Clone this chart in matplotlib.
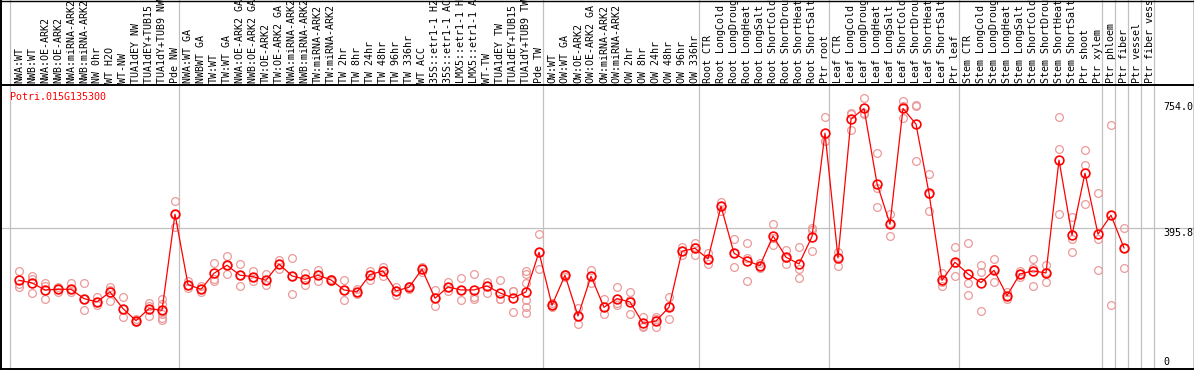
import matplotlib
matplotlib.use("Agg")
import matplotlib.pyplot as plt
from matplotlib.lines import Line2D

# ---------------- data ----------------
gene_id = "Potri.015G135300"

samples = [
    # group 1
    "NWA:WT", "NWB:WT", "NWA:OE-ARK2", "NWB:OE-ARK2", "NWA:miRNA-ARK2", "NWB:miRNA-ARK2",
    "NW 0hr", "WT H2O", "WT-NW", "TUA1dEY NW", "TUA1dEY+TUB15 NW", "TUA1dY+TUB9 NW", "Pde NW",
    # group 2
    "NWA:WT GA", "NWBWT GA", "TW:WT", "TW:WT GA", "NWA:OE-ARK2 GA", "NWB:OE-ARK2 GA",
    "TW:OE-ARK2", "TW:OE-ARK2 GA", "NWA:miRNA-ARK2 GA", "NWB:miRNA-ARK2 GA", "TW:miRNA-ARK2",
    "TW:miRNA-ARK2 GA", "TW 2hr", "TW 8hr", "TW 24hr", "TW 48hr", "TW 96hr", "TW 336hr",
    "WT ACC", "35S::etr1-1 H2O", "35S::etr1-1 ACC", "LMX5::etr1-1 H2O", "LMX5::etr1-1 ACC",
    "WT-TW", "TUA1dEY TW", "TUA1dEY+TUB15 TW", "TUA1dY+TUB9 TW", "Pde TW",
    # group 3
    "OW:WT", "OW:WT GA", "OW:OE-ARK2", "OW:OE-ARK2 GA", "OW:miRNA-ARK2", "OW:miRNA-ARK2 GA",
    "OW 2hr", "OW 8hr", "OW 24hr", "OW 48hr", "OW 96hr", "OW 336hr",
    # group 4
    "Root CTR", "Root LongCold", "Root LongDrought", "Root LongHeat", "Root LongSalt",
    "Root ShortCold", "Root ShortDrought", "Root ShortHeat", "Root ShortSalt", "Ptr root",
    # group 5
    "Leaf CTR", "Leaf LongCold", "Leaf LongDrought", "Leaf LongHeat", "Leaf LongSalt",
    "Leaf ShortCold", "Leaf ShortDrought", "Leaf ShortHeat", "Leaf ShortSalt", "Ptr leaf",
    # group 6
    "Stem CTR", "Stem LongCold", "Stem LongDrought", "Stem LongHeat", "Stem LongSalt",
    "Stem ShortCold", "Stem ShortDrought", "Stem ShortHeat", "Stem ShortSalt", "Ptr shoot",
    "Ptr xylem",
    # single groups
    "Ptr phloem", "Ptr fiber", "Ptr vessel", "Ptr fiber vessel",
]

group_sizes = [13, 28, 12, 10, 10, 11, 1, 1, 1, 1]

means = [
    239, 231, 210, 212, 212, 184, 174, 204, 154, 118, 154, 149, 437,
    226, 212, 260, 284, 254, 250, 239, 288, 252, 242, 254, 240, 210, 204, 256, 267,
    207, 218, 272, 185, 219, 210, 210, 222, 201, 186, 204, 323,
    164, 254, 132, 251, 158, 184, 174, 110, 117, 158,
    326, 335, 303, 461, 320, 297, 283, 372, 308, 288,
    370, 680, 306, 722, 754, 529, 407, 754, 707, 500,
    239, 293, 258, 232, 269, 193, 258, 267, 261, 599, 374,
    560, 377, 434, 336,
]

replicates = [
    [267, 227, 220], [252, 244, 200], [230, 223, 182], [220, 212, 205], [230, 212, 203],
    [232, 184, 149], [188, 174, 165], [220, 210, 178], [188, 154, 130], [122, 118, 113],
    [170, 163, 133], [182, 168, 150, 138, 127, 120], [477, 437, 399],
    [238, 226, 216], [222, 212, 204], [291, 244, 238], [312, 284, 257], [288, 254, 222],
    [267, 250, 238], [257, 239, 226], [299, 288, 273], [306, 252, 198], [262, 242, 225],
    [270, 254, 238], [244, 240, 236], [240, 210, 180], [212, 204, 198], [266, 256, 240],
    [278, 267, 251], [220, 207, 195], [222, 218, 214], [280, 272, 264], [210, 185, 161],
    [234, 219, 208], [245, 210, 180], [258, 190, 182], [234, 222, 202], [239, 182, 182],
    [208, 206, 144], [266, 258, 232, 181, 158, 140], [377, 323, 272],
    [170, 164, 158], [258, 254, 250], [155, 132, 108], [270, 251, 230], [182, 158, 138],
    [218, 170, 165], [204, 180, 138], [130, 102, 98], [130, 122, 98], [189, 163, 122],
    [338, 326, 315], [350, 340, 314], [322, 300, 288], [475, 461, 448], [363, 320, 278],
    [350, 305, 236], [290, 283, 276], [407, 366, 344], [330, 306, 288], [338, 274, 245],
    [395, 389, 326], [728, 656, 656], [325, 310, 283], [740, 736, 690], [785, 740, 737],
    [620, 517, 458], [438, 410, 372], [777, 760, 725], [763, 762, 597], [557, 497, 446],
    [260, 235, 223], [339, 290, 251], [350, 230, 194], [284, 265, 147], [302, 272, 233],
    [203, 193, 183], [268, 258, 248], [303, 275, 223], [286, 264, 233], [728, 632, 437],
    [428, 364, 323], [629, 585, 468], [500, 362, 269], [704, 434, 164], [395, 336, 275],
]

tick_labels = ["754.0", "395.8", "0"]
mid_value = 395.8

# ---------------- layout (pixels) ----------------
W, H = 1194, 370
HEADER = 86          # header height in px
X0, STEP = 19, 13    # px position of first sample, px per sample
Y0PX, SCALE = 360, 0.3336  # px row of value 0, px per unit

def ix(px):
    return (px - X0) / STEP

fig = plt.figure(figsize=(W / 100, H / 100), dpi=100)
fig.patch.set_facecolor("white")

xlim = (ix(0), ix(W))
ax = fig.add_axes([0, 0, 1, (H - HEADER) / H])
ax.set_xlim(xlim)
ax.set_ylim((Y0PX - H) / SCALE, (Y0PX - HEADER) / SCALE)
ax.axis("off")

hax = fig.add_axes([0, (H - HEADER) / H, 1, HEADER / H])
hax.set_xlim(xlim)
hax.set_ylim(HEADER, 0)
hax.axis("off")

GRAY = "#c0c0c0"
MONO = "DejaVu Sans Mono"

# group separators
b = 0
bounds = [0]
for s in group_sizes:
    b += s
    bounds.append(b)
for bb in bounds:
    xv = bb - 9 / STEP
    ax.axvline(xv, color=GRAY, lw=0.9, zorder=1)
    hax.axvline(xv, color=GRAY, lw=0.9, zorder=1)

ax.axhline(mid_value, color=GRAY, lw=0.9, zorder=1)

# replicates
for i, reps in enumerate(replicates):
    ax.plot([i] * len(reps), reps, linestyle="none", marker="o", markersize=5.6,
            markerfacecolor="none", markeredgecolor="#eb9a9a", markeredgewidth=0.9,
            zorder=2, clip_on=False)

# mean line
xs = list(range(len(means)))
ax.plot(xs, means, color="#ff0000", lw=0.9, zorder=3)
ax.plot(xs, means, linestyle="none", marker="o", markersize=6.3,
        markerfacecolor="none", markeredgecolor="#ff0000", markeredgewidth=1.2, zorder=4)

# header labels
for i, lab in enumerate(samples):
    hax.text(i, 83, lab, rotation=90, ha="center", va="bottom",
             fontfamily=MONO, fontsize=7.2, color="black", clip_on=False)

# gene id
fig.text(10 / W, 1 - 97.5 / H, gene_id, color="#ff0000", fontfamily=MONO,
         fontsize=7.2, ha="left", va="center")

# right-hand scale labels
for lab, row in zip(tick_labels, [107, 233, 362]):
    fig.text(1163 / W, 1 - row / H, lab, color="black", fontfamily=MONO,
             fontsize=7.2, ha="left", va="center")

# borders
def hline(row, lw):
    fig.add_artist(Line2D([0, 1], [1 - row / H] * 2, transform=fig.transFigure,
                          color="black", lw=lw))

def vline(col, lw):
    fig.add_artist(Line2D([col / W] * 2, [0, 1], transform=fig.transFigure,
                          color="black", lw=lw))

hline(0.5, 1.0)
hline(85, 1.4)
hline(369, 1.4)
vline(1, 1.4)
vline(1193.5, 1.0)

fig.savefig("out.png", dpi=100)
